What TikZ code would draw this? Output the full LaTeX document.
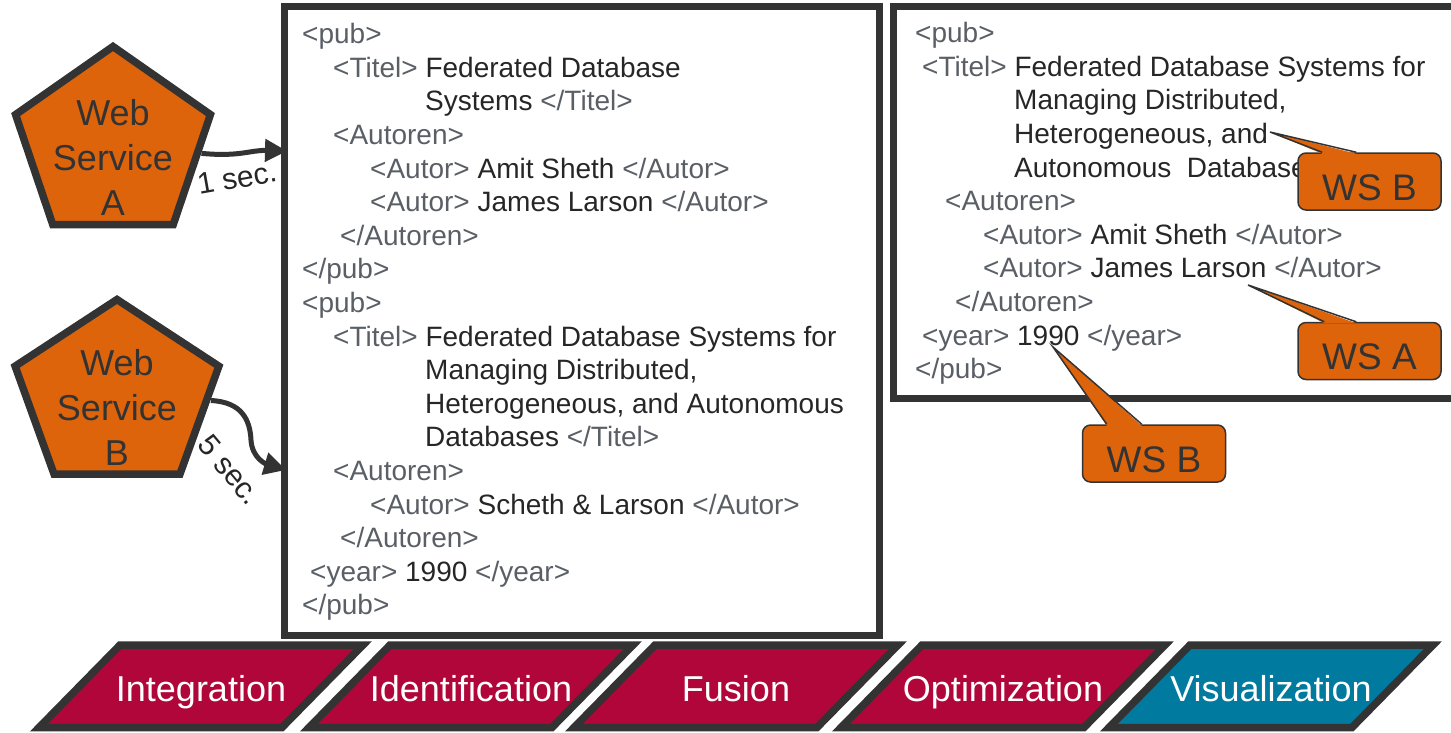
\documentclass[tikz,border=0pt]{standalone}
\usepackage{fontspec}
\setmainfont{Liberation Sans}
\usetikzlibrary{shapes.geometric,arrows.meta,calc}

\definecolor{darkline}{HTML}{333333}
\definecolor{wsorange}{HTML}{DE640C}
\definecolor{stagered}{HTML}{B0063A}
\definecolor{stageblue}{HTML}{007A9E}
\definecolor{taggray}{HTML}{5A5F66}
\definecolor{textdark}{HTML}{262626}
\newcommand{\tg}[1]{\textcolor{taggray}{#1}}

\begin{document}
\begin{tikzpicture}[x=1pt, y=-1pt,
    service/.style = {regular polygon, regular polygon sides=5, draw=darkline, line width=7.5pt, fill=wsorange, inner sep=0pt},
    servicetext/.style = {align=center, text=darkline, font=\fontsize{36}{45}\selectfont},
    xmlframe/.style = {draw=darkline, line width=7pt, inner sep=0pt},
    xml/.style = {align=left, inner sep=0pt, text=textdark, font=\fontsize{28}{33.6}\selectfont},
    flow/.style = {draw=darkline, line width=5pt, -{Triangle[length=22pt,width=22pt]}},
    delay/.style = {text=textdark, inner sep=0pt, font=\fontsize{30}{36}\selectfont},
    wsbox/.style = {draw=darkline, line width=1.5pt, fill=wsorange, rounded corners=8pt, minimum width=143pt, minimum height=57pt, inner sep=0pt, text=darkline, font=\fontsize{37}{44}\selectfont, text height=37pt, text depth=0pt},
    stage/.style = {draw=darkline, line width=7.5pt},
    stagetext/.style = {text=white, inner sep=0pt, font=\fontsize{36}{43}\selectfont, text height=26pt, text depth=0pt}]
    \useasboundingbox (0,0) rectangle (1451,732);

    % the two xml documents
    \node[xmlframe, minimum width=595pt, minimum height=628.5pt] (fedbox) at (581.5,320.75) {};
    \node[xmlframe, minimum width=576.5pt, minimum height=392pt] (resbox) at (1181.75,202) {};
    \node[xml, anchor=north west] (xmlFed) at (302,20) {\strut\tg{<pub>}\\
        \hspace*{31pt}\tg{<Titel>} Federated Database\\
        \hspace*{123pt}Systems \tg{</Titel>}\\
        \hspace*{31pt}\tg{<Autoren>}\\
        \hspace*{68pt}\tg{<Autor>} Amit Sheth \tg{</Autor>}\\
        \hspace*{68pt}\tg{<Autor>} James Larson \tg{</Autor>}\\
        \hspace*{38pt}\tg{</Autoren>}\\
        \tg{</pub>}\\
        \tg{<pub>}\\
        \hspace*{31pt}\tg{<Titel>} Federated Database Systems for\\
        \hspace*{123pt}Managing Distributed,\\
        \hspace*{123pt}Heterogeneous, and Autonomous\\
        \hspace*{123pt}Databases \tg{</Titel>}\\
        \hspace*{31pt}\tg{<Autoren>}\\
        \hspace*{68pt}\tg{<Autor>} Scheth \& Larson \tg{</Autor>}\\
        \hspace*{38pt}\tg{</Autoren>}\\
        \hspace*{8pt}\tg{<year>} 1990 \tg{</year>}\\
        \tg{</pub>}};
    \node[xml, anchor=north west] (xmlRes) at (915,19) {\strut\tg{<pub>}\\
        \hspace*{7pt}\tg{<Titel>} Federated Database Systems for\\
        \hspace*{99pt}Managing Distributed,\\
        \hspace*{99pt}Heterogeneous, and\\
        \hspace*{99pt}Autonomous\ \ Databases\\
        \hspace*{30pt}\tg{<Autoren>}\\
        \hspace*{68pt}\tg{<Autor>} Amit Sheth \tg{</Autor>}\\
        \hspace*{68pt}\tg{<Autor>} James Larson \tg{</Autor>}\\
        \hspace*{40pt}\tg{</Autoren>}\\
        \hspace*{7pt}\tg{<year>} 1990 \tg{</year>}\\
        \tg{</pub>}};

    % source callouts
    \foreach \nm/\cx/\cy/\lbl/\tx/\ty/\ba/\bb in {wsTitle/1369.5/181.5/WS B/1270/132/25/59,
        wsAuthor/1369.5/351/WS A/1248/285/27/59, wsYear/1154/453.5/WS B/1053/347/25/60}{
        \node[wsbox] (\nm) at (\cx,\cy) {\lbl};
        \coordinate (\nm-tip) at (\tx,\ty);
        \fill[wsorange] ($(\nm.north west)+(\ba,1.5)$) -- (\nm-tip) -- ($(\nm.north west)+(\bb,1.5)$) -- cycle;
        \draw[darkline, line width=1.5pt] ($(\nm.north west)+(\ba,0)$) -- (\nm-tip) -- ($(\nm.north west)+(\bb,0)$);
    }

    % web services
    \node[service, minimum size=197pt, xscale=1.04] (wsA) at (113,145) {};
    \node[servicetext] (wsAtext) at (113,157) {Web\\Service\\A};
    \node[service, minimum size=193pt, xscale=1.11] (wsB) at (117,396) {};
    \node[servicetext] (wsBtext) at (117,407) {Web\\Service\\B};
    \coordinate (inA) at (287,151);
    \coordinate (inB) at (286,470);
    \draw[flow] (wsA) .. controls (240,157) and (250,150) .. (inA);
    \draw[flow] (wsB) .. controls (242,402) and (250,420) .. (251,440) .. controls (252,458) and (266,464) .. (inB);
    \node[delay, rotate=10] (secA) at (237,178) {1 sec.};
    \node[delay, rotate=-50] (secB) at (230,470) {5 sec.};

    % process steps
    \foreach \px/\lbl/\clr [count=\i] in {118/Integration/stagered, 388/Identification/stagered,
        653/Fusion/stagered, 920/Optimization/stagered, 1188/Visualization/stageblue}{
        \draw[stage, fill=\clr] (\px+2,645) -- (\px+245,645) -- (\px+164,727.5) -- (\px-79,727.5) -- cycle;
        \node[stagetext] (stage\i) at (\px+83,688) {\lbl};
    }
\end{tikzpicture}
\end{document}
